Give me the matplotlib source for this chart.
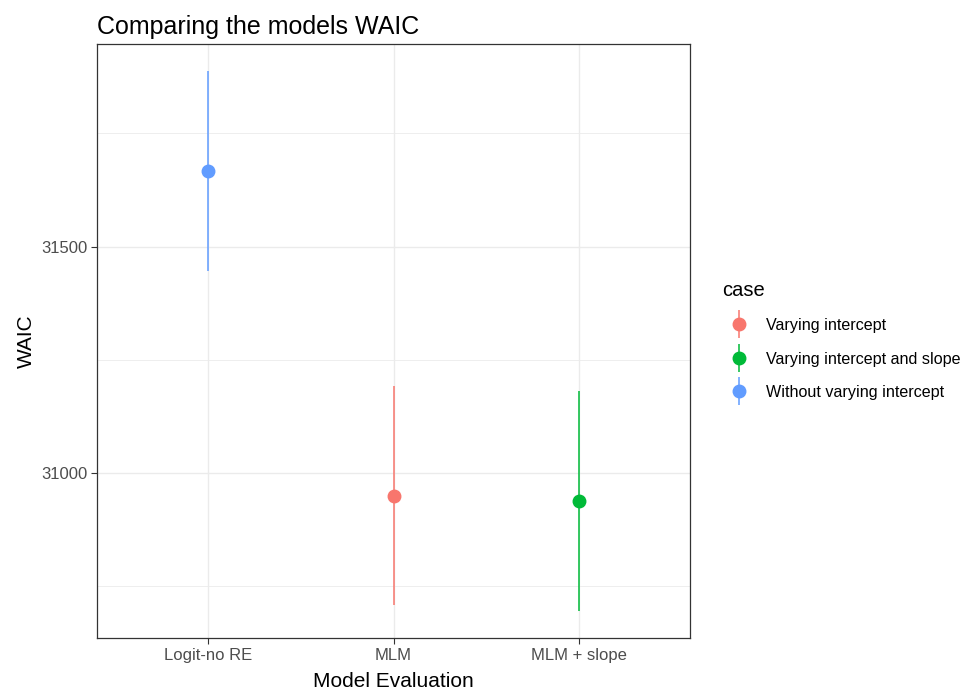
import matplotlib
matplotlib.use("Agg")
import matplotlib.pyplot as plt
from matplotlib.lines import Line2D
from matplotlib.ticker import MultipleLocator

plt.rcParams['font.family'] = ['Liberation Sans', 'DejaVu Sans']

# data
models = ["Logit-no RE", "MLM", "MLM + slope"]
cases = ["Without varying intercept", "Varying intercept", "Varying intercept and slope"]
waic = [31668, 30950, 30937]
lower = [31447, 30708, 30695]
upper = [31888, 31193, 31180]

legend_order = ["Varying intercept", "Varying intercept and slope", "Without varying intercept"]
palette = {"Varying intercept": "#F8766D",
           "Varying intercept and slope": "#00BA38",
           "Without varying intercept": "#619CFF"}

fig = plt.figure(figsize=(9.67, 6.92), dpi=100)
ax = fig.add_axes([97 / 967, 1 - 638 / 692, (690 - 97) / 967, (638 - 44) / 692])

for m, c, w, lo, hi in zip(models, cases, waic, lower, upper):
    col = palette[c]
    ax.vlines(m, lo, hi, color=col, linewidth=1.1, zorder=3)
    ax.plot(m, w, 'o', color=col, markersize=9, zorder=4)

ax.set_xlim(-0.6, len(models) - 0.4)
span = max(upper) - min(lower)
ax.set_ylim(min(lower) - 0.05 * span, max(upper) + 0.05 * span)

ax.yaxis.set_major_locator(MultipleLocator(500))
ax.yaxis.set_minor_locator(MultipleLocator(250))
ax.grid(which='major', color='#EBEBEB', linewidth=1.0, zorder=0)
ax.grid(which='minor', axis='y', color='#EBEBEB', linewidth=0.6, zorder=0)
ax.set_axisbelow(True)
ax.tick_params(which='minor', left=False)
ax.tick_params(which='major', length=4, width=0.8, color='#333333',
               labelcolor='#4D4D4D', labelsize=12, pad=3)
for s in ax.spines.values():
    s.set_color('#333333')
    s.set_linewidth(0.9)

ax.set_xlabel("Model Evaluation", fontsize=15, labelpad=7)
ax.set_ylabel("WAIC", fontsize=15, labelpad=4)
ax.set_title("Comparing the models WAIC", fontsize=18, loc='left', pad=7)

handles = []
for c in legend_order:
    col = palette[c]
    bar = Line2D([], [], color=col, marker='|', linestyle='None', markersize=20, markeredgewidth=1.1)
    dot = Line2D([], [], color=col, marker='o', linestyle='None', markersize=9)
    handles.append((bar, dot))
leg = fig.legend(handles, legend_order, title="case", loc='upper left',
                 bbox_to_anchor=(707.5 / 967, 1 - 266 / 692), frameon=False,
                 fontsize=11.6, title_fontsize=14.5, handlelength=2.1,
                 labelspacing=1.15, handletextpad=0.6, alignment='left')

fig.savefig("out.png", dpi=100)
